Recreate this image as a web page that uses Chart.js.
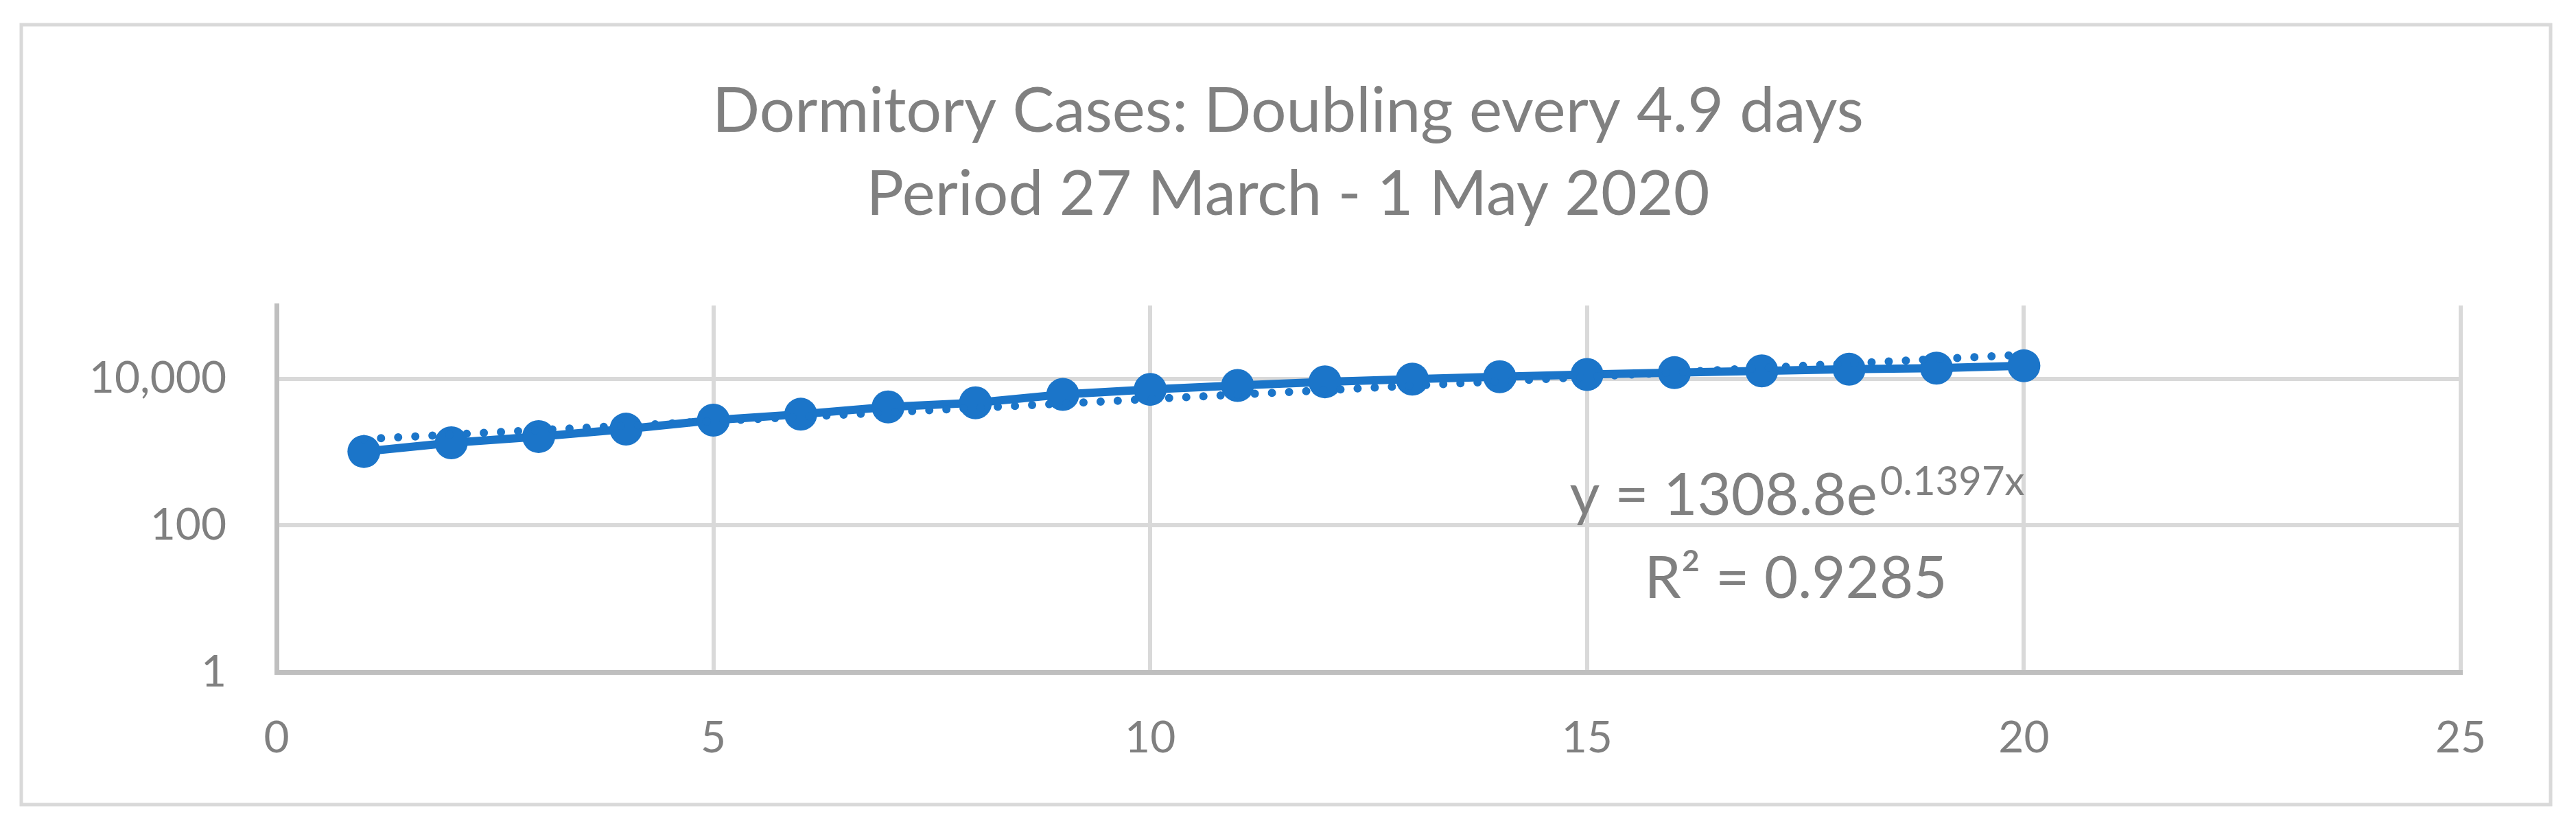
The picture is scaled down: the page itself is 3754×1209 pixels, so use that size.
<!DOCTYPE html>
<html>
<head>
<meta charset="utf-8">
<title>Dormitory Cases</title>
<script src="https://cdn.jsdelivr.net/npm/chart.js@4.4.1/dist/chart.umd.min.js"></script>
<style>
  html, body { margin: 0; padding: 0; background: #ffffff; }
  #wrap { width: 3754px; height: 1209px; position: relative; }
</style>
</head>
<body>
<div id="wrap"><canvas id="chart"></canvas></div>
<script>
// day index (x) and cumulative dormitory cases (y)
var dayIndex   = [1, 2, 3, 4, 5, 6, 7, 8, 9, 10, 11, 12, 13, 14, 15, 16, 17, 18, 19, 20];
var dormCases  = [1020, 1340, 1630, 2060, 2730, 3290, 4140, 4710, 6130, 7180,
                  8120, 9100, 9910, 10670, 11450, 12140, 12830, 13510, 13990, 15050];

// exponential trendline end points (straight on the log axis)
var trendX = [1, 20];
var trendY = [1510, 21400];

var yTicks = [1, 100, 10000];
var xTicks = [0, 5, 10, 15, 20, 25];

var titleLines = ['Dormitory Cases: Doubling every 4.9 days', 'Period 27 March - 1 May 2020'];
var eqMain = 'y = 1308.8e';
var eqExp = '0.1397x';
var eqR2 = 'R\u00B2 = 0.9285';

var BLUE = '#1B75C9';
var GREY_TEXT = '#808080';
var FONT = 'Lato, "Open Sans", sans-serif';

function toPoints(xs, ys) {
    return xs.map(function (x, i) { return { x: x, y: ys[i] }; });
}

// frame around the whole chart, centred title, trendline equation
var extras = {
    id: 'extras',
    beforeDraw: function (chart) {
        var ctx = chart.ctx;
        ctx.save();
        ctx.strokeStyle = '#D9D9D9';
        ctx.lineWidth = 5;
        ctx.strokeRect(31, 36, 3686, 1136);

        ctx.fillStyle = GREY_TEXT;
        ctx.textAlign = 'center';
        ctx.textBaseline = 'alphabetic';
        ctx.font = '91px ' + FONT;
        ctx.fillText(titleLines[0], chart.width / 2, 192);
        ctx.fillText(titleLines[1], chart.width / 2, 313);
        ctx.restore();
    },
    afterDraw: function (chart) {
        var ctx = chart.ctx;
        var cx = 2617;
        ctx.save();
        ctx.fillStyle = GREY_TEXT;
        ctx.textBaseline = 'alphabetic';
        ctx.textAlign = 'left';

        ctx.font = '85px ' + FONT;
        var w1 = ctx.measureText(eqMain).width;
        ctx.font = '58px ' + FONT;
        var w2 = ctx.measureText(eqExp).width;
        var x0 = cx - (w1 + w2) / 2;
        ctx.font = '85px ' + FONT;
        ctx.fillText(eqMain, x0, 750);
        ctx.font = '58px ' + FONT;
        ctx.fillText(eqExp, x0 + w1 + 4, 721);

        ctx.font = '85px ' + FONT;
        ctx.textAlign = 'center';
        ctx.fillText(eqR2, cx, 871);
        ctx.restore();
    }
};

new Chart(document.getElementById('chart'), {
    type: 'line',
    data: {
        datasets: [
            {
                label: 'Dormitory cases',
                data: toPoints(dayIndex, dormCases),
                borderColor: BLUE,
                backgroundColor: BLUE,
                borderWidth: 12,
                pointRadius: 24,
                pointHoverRadius: 24,
                pointBorderWidth: 0,
                pointBackgroundColor: BLUE,
                tension: 0,
                order: 2
            },
            {
                label: 'Expon. trend',
                data: toPoints(trendX, trendY),
                borderColor: BLUE,
                borderWidth: 12,
                borderDash: [0, 25],
                borderCapStyle: 'round',
                pointRadius: 0,
                tension: 0,
                order: 1
            }
        ]
    },
    options: {
        responsive: true,
        maintainAspectRatio: false,
        devicePixelRatio: 1,
        animation: false,
        layout: { padding: { top: 445, left: 60, right: 168, bottom: 60 } },
        plugins: {
            legend: { display: false },
            tooltip: { enabled: false },
            title: { display: false }
        },
        scales: {
            x: {
                type: 'linear',
                min: 0,
                max: 25,
                afterBuildTicks: function (s) { s.ticks = xTicks.map(function (v) { return { value: v }; }); },
                afterFit: function (s) { s.height = 170; },
                ticks: { color: GREY_TEXT, font: { family: FONT, size: 64 }, padding: 58, maxRotation: 0 },
                grid: { color: '#D9D9D9', lineWidth: 6, drawTicks: false },
                border: { color: '#BFBFBF', width: 7 }
            },
            y: {
                type: 'logarithmic',
                min: 1,
                max: 100000,
                afterBuildTicks: function (s) { s.ticks = yTicks.map(function (v) { return { value: v }; }); },
                afterFit: function (s) { s.width = 343; },
                ticks: {
                    color: GREY_TEXT,
                    font: { family: FONT, size: 64 },
                    padding: 73,
                    callback: function (v) { return Number(v).toLocaleString('en-US'); }
                },
                grid: { color: '#D9D9D9', lineWidth: 6, drawTicks: false },
                border: { color: '#BFBFBF', width: 7 }
            }
        }
    },
    plugins: [extras]
});
</script>
</body>
</html>
